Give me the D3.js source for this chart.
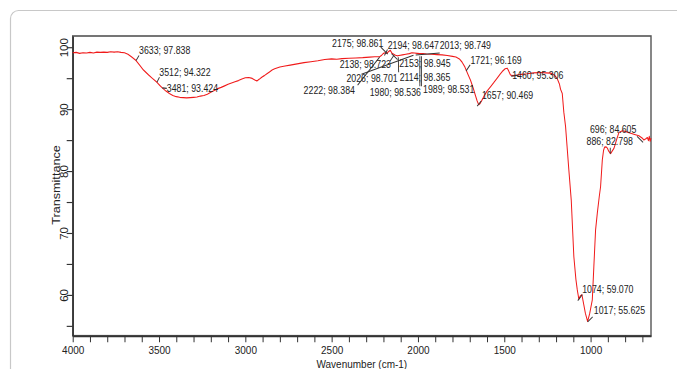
<!DOCTYPE html>
<html><head><meta charset="utf-8">
<script src="https://cdn.jsdelivr.net/npm/d3@7"></script>
<style>
html,body{margin:0;padding:0;background:#fff;}
svg{display:block;font-family:"Liberation Sans",Arial,sans-serif;}
</style></head><body>
<svg id="chart" width="677" height="369"></svg>
<script>
// ---- data ----
const wavenumbers = [4000,3980,3960,3940,3920,3900,3880,3860,3840,3820,3800,3780,3760,3740,3720,3700,3680,3660,3633,3610,3590,3560,3540,3512,3495,3481,3460,3440,3420,3400,3380,3360,3340,3320,3300,3280,3260,3240,3220,3200,3180,3160,3140,3120,3100,3080,3060,3040,3020,3000,2980,2960,2945,2933,2920,2905,2890,2875,2860,2845,2830,2800,2770,2740,2700,2660,2620,2580,2540,2500,2470,2440,2400,2360,2320,2280,2250,2222,2210,2200,2190,2180,2170,2160,2150,2140,2130,2120,2110,2090,2070,2050,2035,2020,2005,1990,1970,1950,1920,1890,1860,1830,1800,1780,1760,1745,1730,1721,1710,1696,1680,1667,1657,1648,1640,1630,1619,1600,1580,1560,1541,1525,1512,1495,1483,1475,1464,1450,1425,1400,1367,1330,1290,1260,1232,1210,1193,1180,1174,1164,1155,1145,1126,1112,1097,1085,1077,1068,1060,1050,1040,1030,1017,1005,990,981,971,961,950,942,932,925,919,910,903,895,884,875,864,850,836,816,800,768,745,720,700,691,680,671,665,660,655,650];
const transmittance = [99.1,99.15,99.0,99.1,99.05,99.15,99.05,99.2,99.15,99.2,99.15,99.25,99.2,99.25,99.15,99.1,98.85,98.45,97.84,97.0,96.3,95.5,95.0,94.32,93.8,93.42,92.9,92.5,92.2,92.0,91.9,91.85,91.8,91.85,91.9,91.95,92.1,92.2,92.4,92.7,93.0,93.3,93.5,93.75,94.0,94.2,94.4,94.6,94.85,95.05,95.1,94.95,94.7,94.55,94.8,95.15,95.4,95.7,96.0,96.3,96.5,96.8,96.95,97.1,97.3,97.5,97.65,97.8,98.0,98.1,98.05,98.15,98.2,98.25,98.3,98.4,98.45,98.45,98.7,99.0,99.1,99.0,99.3,99.5,99.0,98.85,98.7,98.6,98.65,98.75,98.85,98.95,99.1,99.05,99.0,98.95,98.95,98.9,98.85,98.8,98.75,98.65,98.5,98.4,98.1,97.6,96.9,96.3,95.6,94.7,93.4,92.2,91.3,90.7,90.9,91.4,92.0,92.9,93.6,94.3,95.0,95.6,96.06,96.5,96.6,96.2,95.5,95.4,95.5,95.6,95.7,95.85,95.9,95.85,95.8,95.5,94.9,94.0,93.2,92.5,89.5,87.2,80.2,75.3,66.2,62.5,60.8,59.3,59.8,60.0,58.5,57.0,55.7,57.0,59.2,64.6,70.5,73.2,75.8,77.5,81.8,83.3,83.85,83.9,83.7,83.2,82.8,83.2,83.7,85.0,86.2,86.5,86.4,86.1,85.9,85.7,85.3,85.0,85.2,85.4,84.9,85.6,84.8,85.3];

const peakWavenumbers = [3633,3512,3481,2222,2175,2194,2013,2138,2153,2026,2114,1980,1989,1721,1657,1460,1074,1017,886,696];
const peakValues = [97.838,94.322,93.424,98.384,98.861,98.647,98.749,98.723,98.945,98.701,98.365,98.536,98.531,96.169,90.469,95.306,59.070,55.625,82.798,84.605];

const xTicks = d3.range(4000, 649, -100);
const xTickLabels = [4000,3500,3000,2500,2000,1500,1000];
const yTicks = [55,60,65,70,75,80,85,90,95,100];
const yTickLabels = [60,70,80,90,100];
const xTitle = "Wavenumber (cm-1)";
const yTitle = "Transmittance";

// ---- layout ----
// label offsets from the peak point: [dx, dy (text centre), leader end dx, leader end dy], screen px
const labelLayout = [
  [3,-9.7,3,-5],[2.4,-10.1,2.5,-5],[4.5,1,4.5,0.5],[-76,33.4,-22,28],
  [-55.7,-10.4,-7,-7],[3.2,-10,3,-6],[24,-9.3,24,-2],[-54.5,9.1,-4,6],
  [7.7,10.2,6,6],[-67,23.7,-52,19],[1.4,19.9,0.4,15],[-51.7,35.9,0,30],
  [3.2,33.6,0,30],[4.3,-10.3,4,-6],[4.8,-10.3,4,-5],[1,-0.4,7,-1],
  [4.4,-10.7,4.5,-6],[6.2,-11.5,5,-5],[-23.7,-12.1,0,-6],[-53.1,-13.3,-6,-6]
];
const S = 1.15; // vertical stretch of the picture
const mLeft = 72.7, mRight = 651, mTop = 36, mBottom = 335.7;

const svg = d3.select("#chart");
svg.append("rect").attr("x",10.5).attr("y",10.5).attr("width",720).attr("height",420)
  .attr("rx",8).attr("fill","#fff").attr("stroke","#c8c8c8").attr("stroke-width",1.2);

const g = svg.append("g").attr("transform",`scale(1,${S})`);

const x = d3.scaleLinear().domain([4000,650]).range([mLeft,mRight]);
const y = d3.scaleLinear().domain([101.8,53.4]).range([mTop/S,mBottom/S]);

// frame
g.append("rect").attr("x",mLeft).attr("y",mTop/S).attr("width",mRight-mLeft).attr("height",(mBottom-mTop)/S)
  .attr("fill","none").attr("stroke","#555").attr("stroke-width",1.4);

// x axis
const xAxis = g.append("g").attr("transform",`translate(0,${mBottom/S})`)
  .call(d3.axisBottom(x).tickValues(xTicks).tickSize(6.5/S).tickSizeOuter(0)
    .tickFormat(d => xTickLabels.includes(d) ? d : ""));
xAxis.select(".domain").attr("stroke","#333").attr("stroke-width",1.5);
xAxis.selectAll(".tick line").attr("stroke","#333").attr("stroke-width",1);
xAxis.selectAll(".tick text").attr("y",18.4/S).attr("dy",0)
  .attr("font-size",10).attr("fill","#222").attr("font-family","Liberation Sans, Arial, sans-serif");

// y axis
const yAxis = g.append("g").attr("transform",`translate(${mLeft},0)`)
  .call(d3.axisLeft(y).tickValues(yTicks).tickSize(6).tickSizeOuter(0)
    .tickFormat(d => yTickLabels.includes(d) ? d : ""));
yAxis.select(".domain").attr("stroke","#333").attr("stroke-width",1.5);
yAxis.selectAll(".tick line").attr("stroke","#333").attr("stroke-width",1);
yAxis.selectAll(".tick text").attr("transform","rotate(-90)").attr("x",0).attr("y",-4.6).attr("dy",0)
  .attr("text-anchor","middle").attr("font-size",10).attr("fill","#222")
  .attr("font-family","Liberation Sans, Arial, sans-serif");

// titles
g.append("text").attr("x",(mLeft+mRight)/2).attr("y",368/S).attr("text-anchor","middle")
  .attr("font-size",10).attr("fill","#222").text(xTitle);
g.append("text").attr("transform",`translate(60,${185/S}) rotate(-90)`).attr("text-anchor","middle")
  .attr("font-size",11).attr("fill","#222").text(yTitle);

// spectrum
const pts = wavenumbers.map((w,i)=>[w,transmittance[i]]);
g.append("path").datum(pts).attr("fill","none").attr("stroke","#f01a1a").attr("stroke-width",1)
  .attr("stroke-linejoin","round")
  .attr("d", d3.line().x(d=>x(d[0])).y(d=>y(d[1])));

// annotations
const ann = g.append("g");
peakWavenumbers.forEach((w,i)=>{
  const v = peakValues[i], L = labelLayout[i];
  const px = x(w), py = y(v);
  ann.append("line").attr("x1",px).attr("y1",py).attr("x2",px+L[2]).attr("y2",py+L[3]/S)
    .attr("stroke","#333").attr("stroke-width",0.9);
  ann.append("text").attr("x",px+L[0]).attr("y",py+L[1]/S).attr("dy","0.35em")
    .attr("font-size",8.8).attr("fill","#222").text(`${w}; ${v.toFixed(3)}`);
});
</script>
</body></html>
